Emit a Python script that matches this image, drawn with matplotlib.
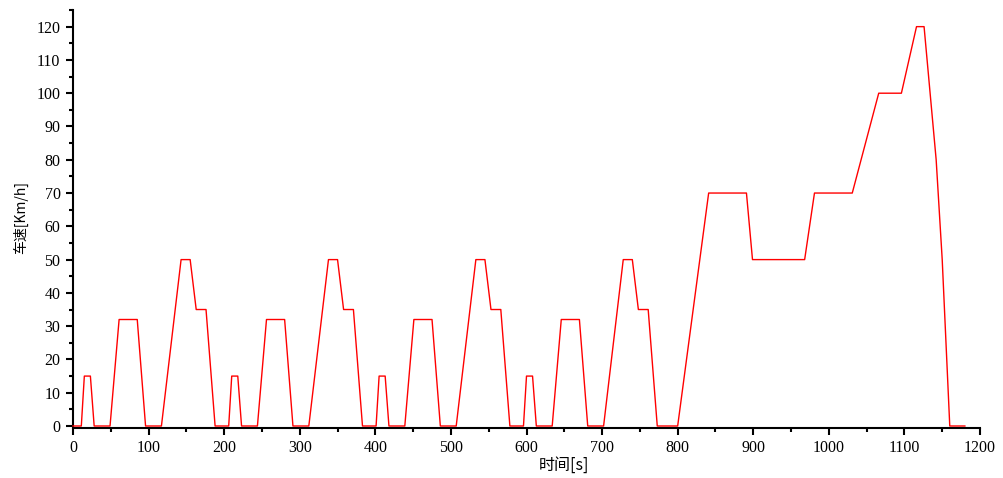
import matplotlib
matplotlib.use("Agg")
import matplotlib.pyplot as plt
from matplotlib.ticker import MultipleLocator

# NEDC breakpoints: time [s] and speed [km/h]
ece1_t = [0, 11, 15, 23, 28, 49, 61, 85, 96, 117, 143, 155, 163, 176, 188]
ece2_t = [195, 206, 210, 218, 223, 244, 256, 280, 291, 312, 338, 350, 358, 371, 383]
ece3_t = [390, 401, 405, 413, 418, 439, 451, 475, 486, 507, 533, 545, 553, 566, 578]
ece4_t = [585, 596, 600, 608, 613, 634, 646, 670, 681, 702, 728, 740, 748, 761, 773]
ece_v = [0, 0, 15, 15, 0, 0, 32, 32, 0, 0, 50, 50, 35, 35, 0]

eudc_t = [780, 800, 841, 891, 899, 968, 981, 1031, 1066, 1096, 1116, 1126, 1142, 1150, 1160, 1180]
eudc_v = [0, 0, 70, 70, 50, 50, 70, 70, 100, 100, 120, 120, 80, 50, 0, 0]

x_ticks = [0, 100, 200, 300, 400, 500, 600, 700, 800, 900, 1000, 1100, 1200]
y_ticks = [0, 10, 20, 30, 40, 50, 60, 70, 80, 90, 100, 110, 120]

t = ece1_t + ece2_t + ece3_t + ece4_t + eudc_t
v = ece_v * 4 + eudc_v

SERIF = ["Liberation Serif", "DejaVu Serif"]
CJK = ["Noto Sans CJK SC", "DejaVu Sans"]


def main() -> None:
    fig = plt.figure(figsize=(10.04, 4.78), dpi=100)
    ax = fig.add_axes([73 / 1004, 52 / 478, 907 / 1004, 416 / 478])

    ax.plot(t, v, color="red", lw=1.0, clip_on=False, zorder=5)

    ax.set_xlim(0, 1200)
    ax.set_ylim(0, 125)
    ax.set_xticks(x_ticks)
    ax.set_yticks(y_ticks)
    ax.xaxis.set_minor_locator(MultipleLocator(50))
    ax.yaxis.set_minor_locator(MultipleLocator(5))

    for side in ("top", "right"):
        ax.spines[side].set_visible(False)
    for side in ("left", "bottom"):
        ax.spines[side].set_linewidth(1.5)
    # red zero line sits just above the black axis in the original
    ax.spines["bottom"].set_position(("outward", 1.2))

    ax.tick_params(which="major", direction="out", length=5, width=1.5, pad=4)
    ax.tick_params(which="minor", direction="out", length=3, width=1.5)
    for lab in ax.get_xticklabels() + ax.get_yticklabels():
        lab.set_family(SERIF)
        lab.set_fontsize(11.5)

    fig.text(564 / 1004, 1 - 465 / 478, "时间[s]", family=CJK, fontsize=11.5,
             ha="center", va="center")
    ax.set_ylabel("车速[Km/h]", family=CJK, fontsize=10, labelpad=6)

    fig.savefig("out.png", dpi=100)


if __name__ == "__main__":
    main()
